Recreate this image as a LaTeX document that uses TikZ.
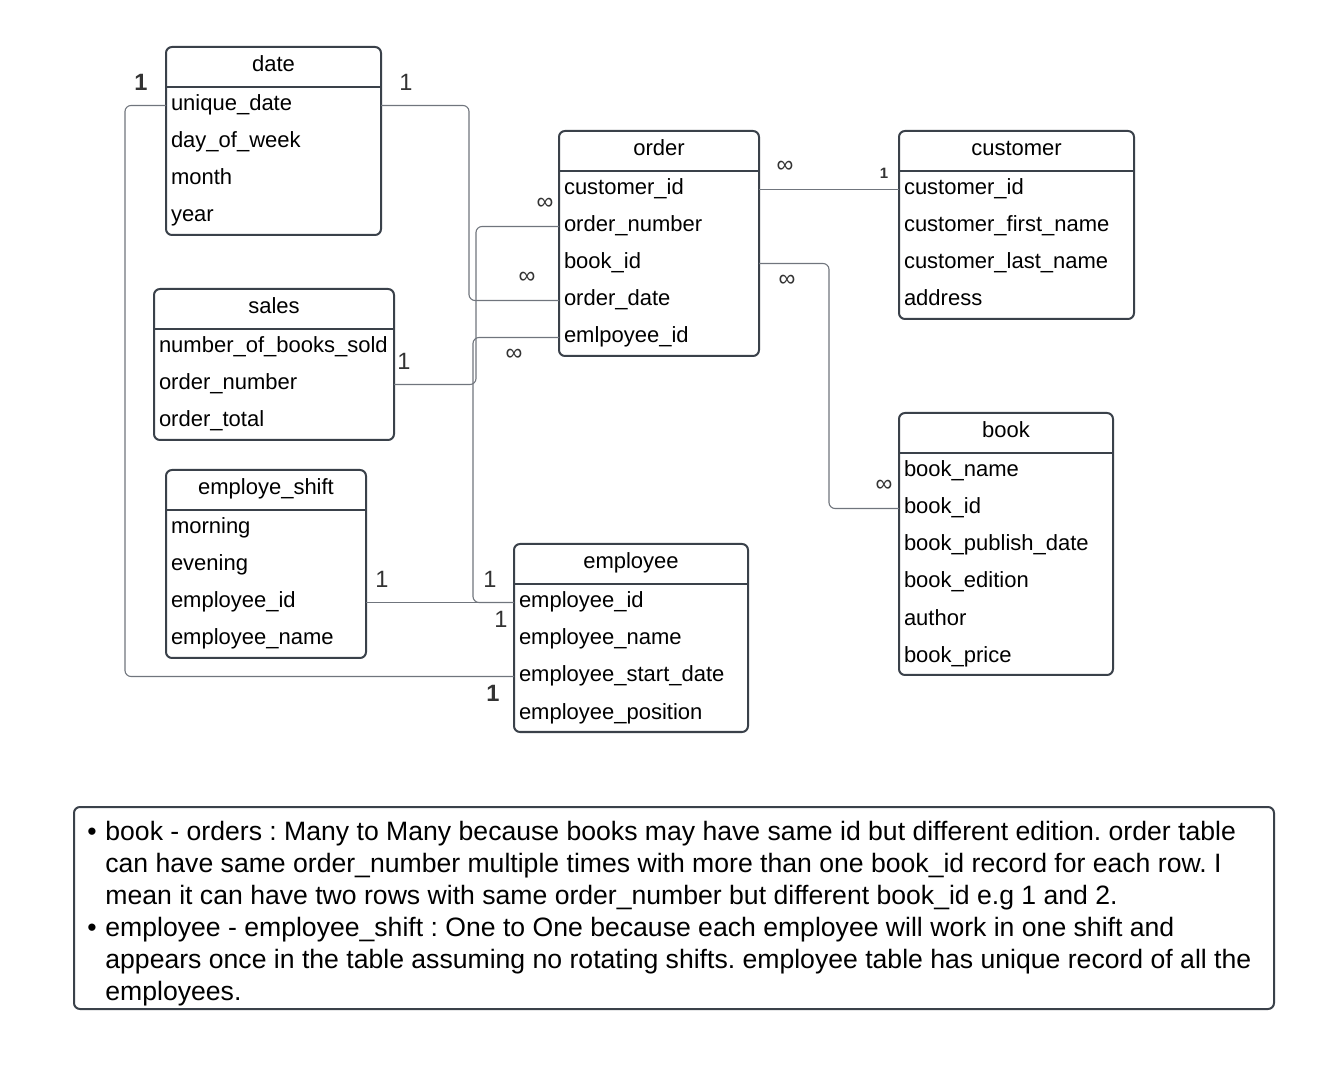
\documentclass[tikz,border=0pt]{standalone}
\usepackage{fontspec}
\setmainfont{Liberation Sans}
\usetikzlibrary{positioning}
\definecolor{boxgray}{HTML}{3A414A}
\definecolor{linkgray}{HTML}{70757D}
\definecolor{labelgray}{HTML}{333333}

\begin{document}
\begin{tikzpicture}[x=0.5pt, y=-0.5pt,
    tabhead/.style={inner sep=0pt, outer sep=0pt, minimum height=20pt, text height=8pt, text depth=3pt,
        font=\fontsize{11}{13}\selectfont},
    fieldrow/.style={inner xsep=2.5pt, inner ysep=0pt, outer sep=0pt, minimum height=18.5pt, text width=#1,
        align=left, text height=8pt, text depth=2.5pt, font=\fontsize{11}{13}\selectfont},
    tabline/.style={draw=boxgray, line width=1pt, rounded corners=3pt},
    sepline/.style={draw=boxgray, line width=1pt},
    link/.style={draw=linkgray, line width=0.55pt, rounded corners=3pt},
    card/.style={inner sep=0pt, text=labelgray, font=\fontsize{11.8}{13}\selectfont}]
        \useasboundingbox (0,0) rectangle (1340,1080);

        % Tables
        \node[tabhead, minimum width=107.5pt] (date) at (273.5,67) {date};
        \node[fieldrow=102.5pt, below=0pt of date] (date-1) {unique\_date};
        \node[fieldrow=102.5pt, below=0pt of date-1] (date-2) {day\_of\_week};
        \node[fieldrow=102.5pt, below=0pt of date-2] (date-3) {month};
        \node[fieldrow=102.5pt, below=0pt of date-3] (date-4) {year};
        \draw[tabline] (date.north west) rectangle (date-4.south east);
        \draw[sepline] (date.south west) -- (date.south east);

        \node[tabhead, minimum width=100pt] (order) at (659,151) {order};
        \node[fieldrow=95pt, below=0pt of order] (order-1) {customer\_id};
        \node[fieldrow=95pt, below=0pt of order-1] (order-2) {order\_number};
        \node[fieldrow=95pt, below=0pt of order-2] (order-3) {book\_id};
        \node[fieldrow=95pt, below=0pt of order-3] (order-4) {order\_date};
        \node[fieldrow=95pt, below=0pt of order-4] (order-5) {emlpoyee\_id};
        \draw[tabline] (order.north west) rectangle (order-5.south east);
        \draw[sepline] (order.south west) -- (order.south east);

        \node[tabhead, minimum width=117.5pt] (customer) at (1016.5,151) {customer};
        \node[fieldrow=112.5pt, below=0pt of customer] (customer-1) {customer\_id};
        \node[fieldrow=112.5pt, below=0pt of customer-1] (customer-2) {customer\_first\_name};
        \node[fieldrow=112.5pt, below=0pt of customer-2] (customer-3) {customer\_last\_name};
        \node[fieldrow=112.5pt, below=0pt of customer-3] (customer-4) {address};
        \draw[tabline] (customer.north west) rectangle (customer-4.south east);
        \draw[sepline] (customer.south west) -- (customer.south east);

        \node[tabhead, minimum width=120pt] (sales) at (274,309) {sales};
        \node[fieldrow=115pt, below=0pt of sales] (sales-1) {number\_of\_books\_sold};
        \node[fieldrow=115pt, below=0pt of sales-1] (sales-2) {order\_number};
        \node[fieldrow=115pt, below=0pt of sales-2] (sales-3) {order\_total};
        \draw[tabline] (sales.north west) rectangle (sales-3.south east);
        \draw[sepline] (sales.south west) -- (sales.south east);

        \node[tabhead, minimum width=107pt] (book) at (1006,433) {book};
        \node[fieldrow=102pt, below=0pt of book] (book-1) {book\_name};
        \node[fieldrow=102pt, below=0pt of book-1] (book-2) {book\_id};
        \node[fieldrow=102pt, below=0pt of book-2] (book-3) {book\_publish\_date};
        \node[fieldrow=102pt, below=0pt of book-3] (book-4) {book\_edition};
        \node[fieldrow=102pt, below=0pt of book-4] (book-5) {author};
        \node[fieldrow=102pt, below=0pt of book-5] (book-6) {book\_price};
        \draw[tabline] (book.north west) rectangle (book-6.south east);
        \draw[sepline] (book.south west) -- (book.south east);

        \node[tabhead, minimum width=100pt] (shift) at (266,490) {employe\_shift};
        \node[fieldrow=95pt, below=0pt of shift] (shift-1) {morning};
        \node[fieldrow=95pt, below=0pt of shift-1] (shift-2) {evening};
        \node[fieldrow=95pt, below=0pt of shift-2] (shift-3) {employee\_id};
        \node[fieldrow=95pt, below=0pt of shift-3] (shift-4) {employee\_name};
        \draw[tabline] (shift.north west) rectangle (shift-4.south east);
        \draw[sepline] (shift.south west) -- (shift.south east);

        \node[tabhead, minimum width=117pt] (employee) at (631,564) {employee};
        \node[fieldrow=112pt, below=0pt of employee] (employee-1) {employee\_id};
        \node[fieldrow=112pt, below=0pt of employee-1] (employee-2) {employee\_name};
        \node[fieldrow=112pt, below=0pt of employee-2] (employee-3) {employee\_start\_date};
        \node[fieldrow=112pt, below=0pt of employee-3] (employee-4) {employee\_position};
        \draw[tabline] (employee.north west) rectangle (employee-4.south east);
        \draw[sepline] (employee.south west) -- (employee.south east);

        % Edges
        \draw[link] (date-1.east) -- ++(88,0) |- (order-4.west);
        \draw[link] (date-1.west) -- ++(-41,0) |- (employee-3.west);
        \draw[link] (order-2.west) -- ++(-83,0) |- (sales-2.east);
        \draw[link] (order-5.west) -- ++(-86,0) |- (employee-1.west);
        \draw[link] (shift-3.east) -- (employee-1.west);
        \draw[link] (order-1.east) -- (customer-1.west);
        \draw[link] (order-3.east) -- ++(70,0) |- (book-2.west);

        % Labels
        \node[card, font=\fontsize{11.8}{13}\selectfont\bfseries] (date-l) at (141,82) {1};
        \node[card] (date-r) at (406,82) {1};
        \node[card] (orderdate-m) at (527,278) {∞};
        \node[card] (ordernum-m) at (545,204) {∞};
        \node[card] (salesnum-1) at (404,361) {1};
        \node[card] (orderemp-m) at (514,355) {∞};
        \node[card] (emp-a) at (490,579) {1};
        \node[card] (shift-1r) at (382,579) {1};
        \node[card] (emp-b) at (501,619) {1};
        \node[card, font=\fontsize{11.8}{13}\selectfont\bfseries] (emp-c) at (493,693) {1};
        \node[card] (ordercust-m) at (785,167) {∞};
        \node[card, font=\fontsize{7.5}{9}\selectfont\bfseries] (cust-1) at (884,173) {1};
        \node[card] (orderbook-m) at (787,281) {∞};
        \node[card] (book-m) at (884,486) {∞};

        % Note
        \node[draw=boxgray, line width=1pt, rounded corners=3pt, minimum width=600pt, minimum height=101pt] (note) at (674,908) {};
        \node[anchor=north west, inner sep=0pt, font=\fontsize{13.3}{16}\selectfont\frenchspacing] (notetext) at ([xshift=7pt, yshift=-6pt] note.north west) {%
            \begin{tabular}{@{}p{9pt}@{}l@{}}
            • & book - orders : Many to Many because books may have same id but different edition. order table\\
              & can have same order\_number multiple times with more than one book\_id record for each row. I\\
              & mean it can have two rows with same order\_number but different book\_id e.g 1 and 2.\\
            • & employee - employee\_shift : One to One because each employee will work in one shift and\\
              & appears once in the table assuming no rotating shifts. employee table has unique record of all the\\
              & employees.
            \end{tabular}};
    \end{tikzpicture}
\end{document}
